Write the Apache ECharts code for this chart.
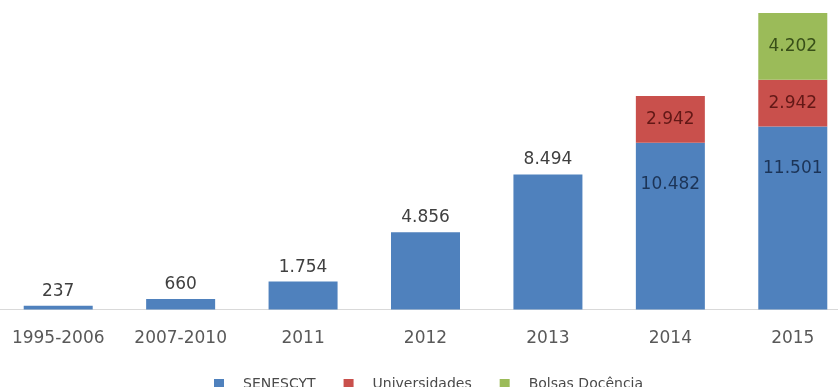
<!DOCTYPE html>
<html>
<head>
<meta charset="utf-8">
<script src="https://cdn.jsdelivr.net/npm/echarts@6/dist/echarts.min.js"></script>
<style>
  html, body { margin: 0; padding: 0; background: #fff; }
  #chart { width: 838px; height: 387px; }
</style>
</head>
<body>
<div id="chart"></div>
<script>
var categories = ['1995-2006', '2007-2010', '2011', '2012', '2013', '2014', '2015']
var senescyt = [237, 660, 1754, 4856, 8494, 10482, 11501]
var universidades = [null, null, null, null, null, 2942, 2942]
var bolsas = [null, null, null, null, null, null, 4202]

// punto como separador de miles
function fmt(v) {
  return String(v).replace(/\B(?=(\d{3})+(?!\d))/g, '.')
}

var font = 'DejaVu Sans'

var chart = echarts.init(document.getElementById('chart'))

// tope del eje = barra apilada mas alta
var totals = senescyt.map(function(v, i) {
  return v + (universidades[i] || 0) + (bolsas[i] || 0)
})
var yMax = Math.max.apply(null, totals)

var blueData = senescyt.map(function(v, i) {
  var stacked = universidades[i] != null
  return {
    value: v,
    label: stacked
      ? { position: 'insideTop', distance: 33, color: '#1c3457' }
      : { position: 'top', distance: 6, color: '#404040' }
  }
})

var option = {
  backgroundColor: '#fff',
  animation: false,
  color: ['#4f81bd', '#c9504c', '#9bbb59'],
  legend: {
    top: 372,
    left: 209,
    itemWidth: 10,
    itemHeight: 10,
    itemGap: 28,
    icon: 'rect',
    selectedMode: false,
    textStyle: {
      fontFamily: font,
      fontSize: 14,
      color: '#4a4a4a',
      padding: [0, 0, 0, 14]
    },
    data: ['SENESCYT', 'Universidades', 'Bolsas Docência']
  },
  grid: {
    left: -3,
    right: -16,
    top: 13,
    bottom: 77.5,
    containLabel: false,
    outerBoundsMode: 'none'
  },
  xAxis: {
    type: 'category',
    data: categories,
    axisTick: { show: false },
    axisLine: { lineStyle: { color: '#d9d9d9', width: 1 } },
    axisLabel: {
      interval: 0,
      margin: 21,
      fontFamily: font,
      fontSize: 17,
      color: '#595959'
    }
  },
  yAxis: {
    type: 'value',
    min: 0,
    max: yMax,
    show: false,
    splitLine: { show: false }
  },
  series: [
    {
      name: 'SENESCYT',
      type: 'bar',
      stack: 'total',
      barWidth: 69,
      data: blueData,
      label: {
        show: true,
        fontFamily: font,
        fontSize: 17,
        formatter: function(p) { return fmt(p.value) }
      }
    },
    {
      name: 'Universidades',
      type: 'bar',
      stack: 'total',
      barWidth: 69,
      data: universidades,
      label: {
        show: true,
        position: 'inside',
        fontFamily: font,
        fontSize: 17,
        color: '#621816',
        formatter: function(p) { return fmt(p.value) }
      }
    },
    {
      name: 'Bolsas Docência',
      type: 'bar',
      stack: 'total',
      barWidth: 69,
      data: bolsas,
      label: {
        show: true,
        position: 'inside',
        fontFamily: font,
        fontSize: 17,
        color: '#384f18',
        formatter: function(p) { return fmt(p.value) }
      }
    }
  ]
}

chart.setOption(option)
</script>
</body>
</html>
